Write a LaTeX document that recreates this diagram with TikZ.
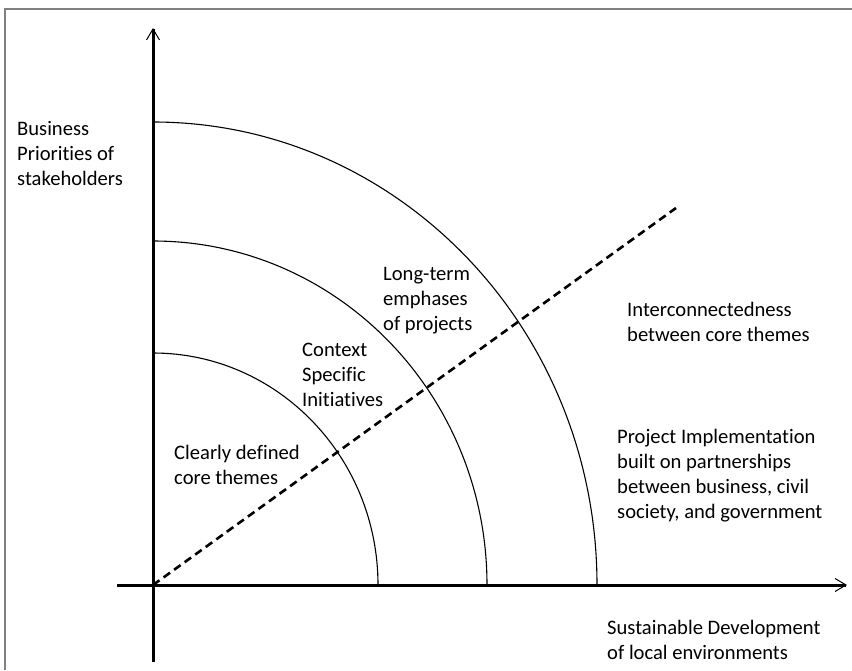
\documentclass[tikz,border=0pt]{standalone}
\usepackage{fontspec}
\setmainfont{Carlito}[Ligatures=NoCommon]
\usetikzlibrary{arrows.meta}

\begin{document}
\begin{tikzpicture}[x=1pt,y=-1pt,
    axis/.style={line width=3pt,-{Straight Barb[length=11pt,width=13pt,line width=1pt]}},
    ring/.style={line width=1.1pt},
    link/.style={line width=2.6pt,dash pattern=on 8pt off 5pt},
    lbl/.style={anchor=base west,align=left,inner sep=0pt,
      font=\fontsize{20.6}{25}\selectfont}]
  \useasboundingbox (0,0) rectangle (852,670);
  \draw[line width=2pt,color=gray] (5,670) -- (5,9) -- (852,9);
  % origin and axis ends
  \coordinate (O) at (153,585);
  \coordinate (ybot) at (153,662);
  \coordinate (ytop) at (153,28);
  \coordinate (xleft) at (117,585);
  \coordinate (xright) at (847,585);
  \coordinate (dend) at (676,208);
  % rings
  \draw[ring] (378,585) arc[start angle=0,end angle=-90,x radius=225,y radius=232];
  \draw[ring] (487,585) arc[start angle=0,end angle=-90,x radius=334,y radius=344];
  \draw[ring] (597,585) arc[start angle=0,end angle=-90,x radius=444,y radius=463];
  \draw[link] (O) -- (dend);
  \draw[axis] (ybot) -- (ytop);
  \draw[axis] (xleft) -- (xright);
  % labels (base = last line)
  \node[lbl] (business) at (17,185) {Business\\Priorities of\\stakeholders};
  \node[lbl] (longterm) at (383,330) {Long-term\\emphases\\of projects};
  \node[lbl] (context) at (302,406) {Context\\Specific\\Initiatives};
  \node[lbl] (clearly) at (174,484) {Clearly defined\\core themes};
  \node[lbl] (inter) at (627,341) {Interconnectedness\\between core themes};
  \node[lbl] (project) at (617,518)
    {Project Implementation\\built on partnerships\\between business, civil\\society, and government};
  \node[lbl] (sustain) at (607,659) {Sustainable Development\\of local environments};
\end{tikzpicture}
\end{document}
